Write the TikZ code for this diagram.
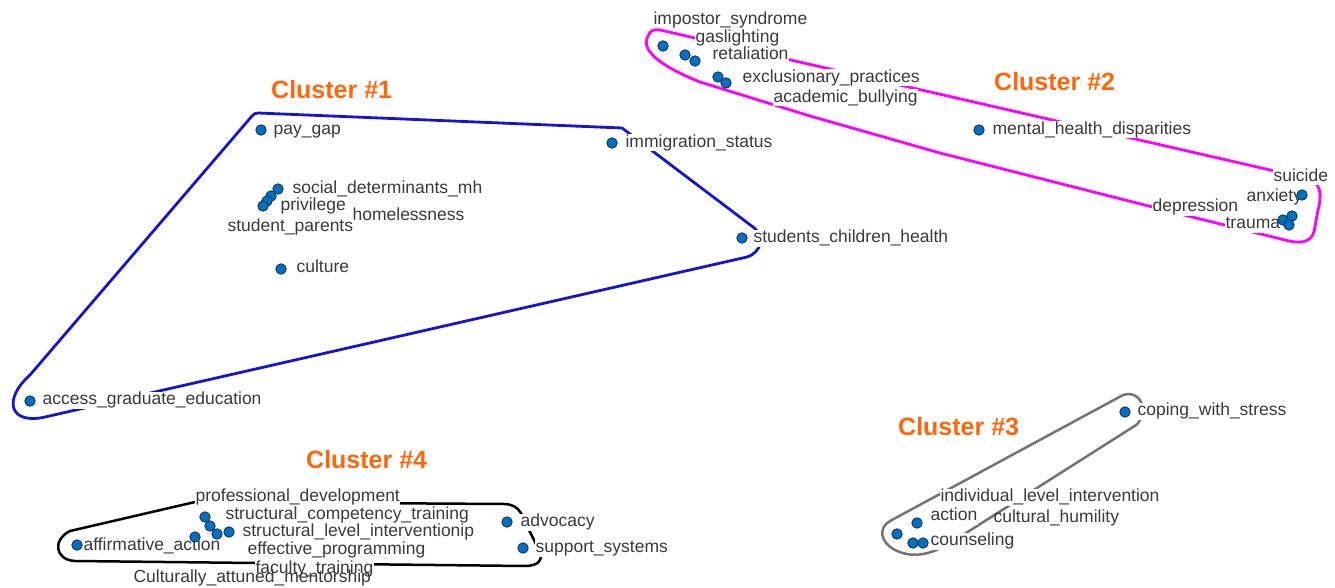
\documentclass[tikz,border=0pt]{standalone}
\usepackage{fontspec}
\setmainfont{Liberation Sans}
\definecolor{ptfill}{RGB}{0,112,192}
\definecolor{ptline}{RGB}{20,45,90}
\definecolor{txt}{RGB}{58,58,58}
\definecolor{ttlc}{RGB}{255,102,10}
\definecolor{hullblue}{RGB}{20,20,210}
\definecolor{hullmag}{RGB}{255,0,255}
\definecolor{hullgray}{RGB}{115,115,115}
\tikzset{
  lbl/.style={anchor=west,inner sep=0.4pt,fill=white,text=txt,font=\fontsize{17.5}{20}\selectfont,text height=12.5pt,text depth=3.7pt},
  lblnf/.style={lbl,fill=none},
  pt/.style={circle,fill=ptfill,draw=ptline,line width=0.8pt,minimum size=10.5pt,inner sep=0pt},
  ttl/.style={anchor=west,inner sep=0pt,text=ttlc,font=\fontsize{25}{28}\selectfont\bfseries},
  hull/.style={line width=2.8pt,line join=round,line cap=round},
}
\begin{document}
\begin{tikzpicture}[x=1pt,y=-1pt]
\useasboundingbox (0,0) rectangle (1335,588);
% hulls
\draw[hull,hullblue] (258,113) -- (622,128) -- (753,227) .. controls (765,236) and (762,252) .. (747,257) -- (45,417) .. controls (10,425) and (2,400) .. (30,375) -- (252,116) .. controls (254,114) and (255,113) .. (258,113);
\draw[hull,hullmag] (660,30) -- (1305,178) .. controls (1322,182) and (1322,195) .. (1318,210) -- (1314,232) .. controls (1310,243) and (1300,244) .. (1285,240) -- (1180,214) -- (940,153) -- (810,116) -- (700,82) .. controls (660,66) and (640,50) .. (648,36) .. controls (650,30) and (655,29) .. (660,30);
\draw[hull,hullgray,line width=2.5pt] (1123,395) .. controls (1135,391) and (1145,400) .. (1142,415) .. controls (1140,422) and (1137,425) .. (1133,427) -- (955,540) .. controls (935,553) and (915,560) .. (895,550) .. controls (880,542) and (878,528) .. (890,521) -- cycle;
\draw[hull,black,line width=2.5pt] (195,502) -- (505,504) .. controls (520,505) and (522,515) .. (528,528) -- (538,548) .. controls (545,560) and (538,566) .. (525,566) -- (75,561) .. controls (55,560) and (52,540) .. (70,531) -- cycle;
% cluster 2 labels
\node[lbl] (l-imp) at (653,20) {impostor\_syndrome};
\node[lbl] (l-gas) at (695,38) {gaslighting};
\node[lbl] (l-ret) at (712,55) {retaliation};
\node[lbl] (l-exc) at (742,78) {exclusionary\_practices};
\node[lbl] (l-aca) at (773,98) {academic\_bullying};
\node[lbl] (l-mhd) at (992,130) {mental\_health\_disparities};
\node[lbl] (l-sui) at (1273,177) {suicide};
\node[lbl] (l-dep) at (1152,207) {depression};
\node[lbl] (l-anx) at (1246,197) {anxiety};
\node[lbl] (l-tra) at (1225,224) {trauma};
% cluster 1 labels
\node[lbl] (l-pay) at (273,130) {pay\_gap};
\node[lbl] (l-imm) at (625,143) {immigration\_status};
\node[lbl] (l-sdm) at (292,189) {social\_determinants\_mh};
\node[lbl] (l-hom) at (352,216) {homelessness};
\node[lbl] (l-stp) at (227,227) {student\_parents};
\node[lbl] (l-pri) at (280,206) {privilege};
\node[lbl] (l-sch) at (753,238) {students\_children\_health};
\node[lbl] (l-cul) at (296,268) {culture};
\node[lbl] (l-agr) at (42,400) {access\_graduate\_education};
% cluster 4 labels
\node[lbl] (l-pro) at (195,497) {professional\_development};
\node[lbl] (l-sct) at (225,515) {structural\_competency\_training};
\node[lbl] (l-sli) at (242,532) {structural\_level\_interventionip};
\node[lbl] (l-eff) at (247,550) {effective\_programming};
\node[lbl] (l-fac) at (255,569) {faculty\_training};
\node[lblnf] (l-cam) at (133,578) {Culturally\_attuned\_mentorship};
\node[lbl] (l-aff) at (83,546) {affirmative\_action};
\node[lbl] (l-adv) at (520,522) {advocacy};
\node[lbl] (l-sup) at (535,548) {support\_systems};
% cluster 3 labels
\node[lbl] (l-cop) at (1137,411) {coping\_with\_stress};
\node[lbl] (l-ind) at (940,497) {individual\_level\_intervention};
\node[lbl] (l-act) at (930,516) {action};
\node[lblnf] (l-chu) at (993,518) {cultural\_humility};
\node[lbl] (l-cou) at (930,541) {counseling};
% points cluster 2
\node[pt] (p-imp) at (663,46) {};
\node[pt] (p-gas) at (685,55) {};
\node[pt] (p-ret) at (695,61) {};
\node[pt] (p-exc) at (718,77) {};
\node[pt] (p-aca) at (726,83) {};
\node[pt] (p-mhd) at (979,130) {};
\node[pt] (p-anx) at (1302,195) {};
\node[pt] (p-sui) at (1292,216) {};
\node[pt] (p-dep) at (1283,220) {};
\node[pt] (p-tra) at (1289,225) {};
% points cluster 1
\node[pt] (p-pay) at (261,130) {};
\node[pt] (p-sdm) at (278,189) {};
\node[pt] (p-hom) at (271,196) {};
\node[pt] (p-pri) at (267,201) {};
\node[pt] (p-stp) at (263,206) {};
\node[pt] (p-cul) at (281,269) {};
\node[pt] (p-imm) at (612,143) {};
\node[pt] (p-sch) at (742,238) {};
\node[pt] (p-agr) at (30,401) {};
% points cluster 4
\node[pt] (p-aff) at (77,545) {};
\node[pt] (p-pro) at (205,517) {};
\node[pt] (p-sct) at (210,526) {};
\node[pt] (p-eff) at (217,534) {};
\node[pt] (p-sli) at (229,532) {};
\node[pt] (p-fac) at (195,537) {};
\node[pt] (p-adv) at (507,522) {};
\node[pt] (p-sup) at (523,548) {};
% points cluster 3
\node[pt] (p-cop) at (1125,412) {};
\node[pt] (p-act) at (917,523) {};
\node[pt] (p-ind) at (897,534) {};
\node[pt] (p-cou) at (913,543) {};
\node[pt] (p-chu) at (923,543) {};
% titles
\node[ttl] (t1) at (271,90) {Cluster \#1};
\node[ttl] (t2) at (994,82) {Cluster \#2};
\node[ttl] (t3) at (898,427) {Cluster \#3};
\node[ttl] (t4) at (306,460) {Cluster \#4};
\end{tikzpicture}
\end{document}
